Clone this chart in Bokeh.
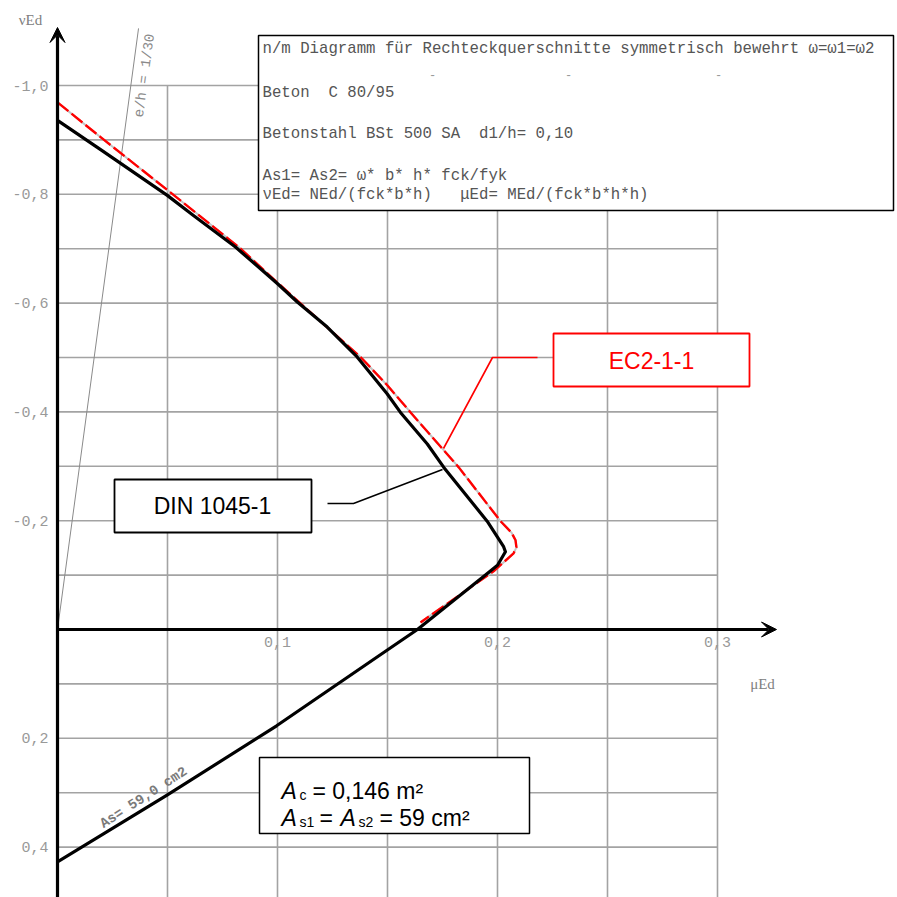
from bokeh.plotting import figure
from bokeh.models import Range1d, Arrow, VeeHead
from bokeh.core.properties import value
from bokeh.embed import file_html
from bokeh.resources import INLINE

# --- data -----------------------------------------------------------------
# interaction curve DIN 1045-1 (muEd, nuEd)
mu_din = [0.0, 0.0196, 0.0499, 0.0618, 0.0809, 0.0999, 0.1090, 0.1226, 0.1362,
          0.1499, 0.1559, 0.1681, 0.1756, 0.1953, 0.2027, 0.2036, 0.2000,
          0.1941, 0.1636, 0.1491, 0.0996, 0.0496, 0.0]
nu_din = [-0.936, -0.882, -0.798, -0.761, -0.703, -0.636, -0.602, -0.556, -0.501,
          -0.433, -0.399, -0.341, -0.298, -0.199, -0.153, -0.143, -0.118,
          -0.099, 0.000, 0.040, 0.177, 0.305, 0.427]

# interaction curve EC2-1-1 (muEd, nuEd)
mu_ec2 = [0.0, 0.0196, 0.0499, 0.0824, 0.0999, 0.1097, 0.1377, 0.1499, 0.1605,
          0.1824, 0.2014, 0.2064, 0.2082, 0.2086, 0.2073, 0.1982, 0.1650]
nu_ec2 = [-0.969, -0.905, -0.808, -0.703, -0.638, -0.602, -0.501, -0.449, -0.399,
          -0.298, -0.199, -0.178, -0.164, -0.151, -0.140, -0.107, -0.013]

# eccentricity ray e/h = 1/30
eh_ratio = 1.0 / 30.0
eh_nu = [0.0, -1.105]

# grid and tick labels
grid_mu = [0.05, 0.10, 0.15, 0.20, 0.25, 0.30]
grid_nu = [-1.0, -0.9, -0.8, -0.7, -0.6, -0.5, -0.4, -0.3, -0.2, -0.1,
           0.1, 0.2, 0.3, 0.4]
x_tick_vals = [0.1, 0.2, 0.3]
x_tick_text = ["0,1", "0,2", "0,3"]
y_tick_vals = [-1.0, -0.8, -0.6, -0.4, -0.2, 0.2, 0.4]
y_tick_text = ["-1,0", "-0,8", "-0,6", "-0,4", "-0,2", "0,2", "0,4"]

NB = "\u00a0"  # keeps runs of spaces in the monospaced block
info_lines = [
    "n/m Diagramm für Rechteckquerschnitte symmetrisch bewehrt ω=ω1=ω2",
    "Beton" + NB * 2 + "C 80/95",
    "Betonstahl BSt 500 SA" + NB * 2 + "d1/h= 0,10",
    "As1= As2= ω* b* h* fck/fyk",
    "νEd= NEd/(fck*b*h)" + NB * 3 + "μEd= MEd/(fck*b*h*h)",
]

# --- page geometry (pixels -> data) ---------------------------------------
W = H = 897
X0, SX = 57.0, 2200.0     # pixel of mu=0, pixels per unit mu
Y0, SY = 629.0, 544.0     # pixel of nu=0, pixels per unit nu (nu grows downwards)


def X(px):
    return (px - X0) / SX


def Y(py):
    return (py - Y0) / SY


p = figure(width=W, height=H, output_backend="svg", toolbar_location=None,
           x_axis_type=None, y_axis_type=None, min_border=0,
           x_range=Range1d(X(0), X(W)), y_range=Range1d(Y(H), Y(0)),
           outline_line_color=None, background_fill_color="white",
           border_fill_color="white")
p.grid.visible = False

GRID = "#a3a3a3"
mono = value("Liberation Mono")
sans = value("Liberation Sans")
serif = value("Liberation Serif")

# grid
nu_bottom = Y(H + 5)
p.segment(x0=grid_mu, y0=[-1.0] * len(grid_mu), x1=grid_mu,
          y1=[nu_bottom] * len(grid_mu), line_color=GRID, line_width=1.6)
p.segment(x0=[0.0] * len(grid_nu), y0=grid_nu, x1=[0.3] * len(grid_nu),
          y1=grid_nu, line_color=GRID, line_width=1.6)

# e/h ray
p.line([eh_ratio * abs(v) for v in eh_nu], eh_nu, line_color="#8a8a8a",
       line_width=1)
p.text(x=[X(144)], y=[Y(75)], text=["e/h = 1/30"], angle=82.3,
       angle_units="deg", text_font=mono, text_font_size="14px",
       text_color="#8a8a8a", text_align="center", text_baseline="middle")

# axes with arrow heads
p.add_layout(Arrow(end=VeeHead(size=15, line_color="black", fill_color="black",
                               line_width=1),
                   x_start=0, y_start=Y(H + 5), x_end=0, y_end=Y(27),
                   line_color="black", line_width=3.2))
p.add_layout(Arrow(end=VeeHead(size=15, line_color="black", fill_color="black",
                               line_width=1),
                   x_start=0, y_start=0, x_end=X(776), y_end=0,
                   line_color="black", line_width=3.2))

# tick labels
p.text(x=x_tick_vals, y=[Y(641)] * len(x_tick_vals), text=x_tick_text,
       text_font=mono, text_font_size="15px", text_color="#999999",
       text_align="center", text_baseline="middle")
p.text(x=[X(48)] * len(y_tick_vals), y=y_tick_vals, text=y_tick_text,
       text_font=mono, text_font_size="15px", text_color="#999999",
       text_align="right", text_baseline="middle")
p.text(x=[X(30)], y=[Y(19)], text=["νEd"], text_font=serif,
       text_font_size="15px", text_color="#808080", text_align="center",
       text_baseline="middle")
p.text(x=[X(762)], y=[Y(683)], text=["μEd"], text_font=serif,
       text_font_size="15px", text_color="#808080", text_align="center",
       text_baseline="middle")

# EC2-1-1 curve (dashed red over a faint grey trace)
p.line(mu_ec2, nu_ec2, line_color="#c4c4c4", line_width=2, line_join="round")
p.line(mu_ec2, nu_ec2, line_color="#ff0000", line_width=2.4,
       line_dash="14 4", line_join="round")

# DIN 1045-1 curve
p.line(mu_din, nu_din, line_color="black", line_width=3.2, line_join="round")
p.text(x=[X(143)], y=[Y(797)], text=["As= 59,0 cm2"], angle=33,
       angle_units="deg", text_font=mono, text_font_size="14px",
       text_font_style="bold", text_color="#7a7a7a", text_align="center",
       text_baseline="middle")

# info box
p.quad(left=[X(258)], right=[X(893)], top=[Y(35)], bottom=[Y(210)],
       fill_color="white", line_color="black", line_width=1.5)
p.text(x=[X(262)] * len(info_lines),
       y=[Y(48), Y(92), Y(133), Y(175), Y(194)], text=info_lines,
       text_font=mono, text_font_size="15.7px", text_color="#555555",
       text_align="left", text_baseline="middle")
p.text(x=[X(432), X(568), X(718)], y=[Y(74)] * 3, text=["-", "-", "-"],
       text_font=mono, text_font_size="12px", text_color="#9a9a9a",
       text_align="center", text_baseline="middle")

# EC2-1-1 callout
p.line([X(443), X(492), X(537)], [Y(448), Y(357), Y(357)],
       line_color="#ff0000", line_width=1.6)
p.quad(left=[X(553)], right=[X(749)], top=[Y(333)], bottom=[Y(386)],
       fill_color="white", line_color="#ff0000", line_width=1.8)
p.text(x=[X(651)], y=[Y(360)], text=["EC2-1-1"], text_font=sans,
       text_font_size="23px", text_color="#ff0000", text_align="center",
       text_baseline="middle")

# DIN 1045-1 callout
p.line([X(327), X(353), X(442)], [Y(503), Y(503), Y(469)],
       line_color="black", line_width=1.5)
p.quad(left=[X(114)], right=[X(311)], top=[Y(479)], bottom=[Y(532)],
       fill_color="white", line_color="black", line_width=1.8)
p.text(x=[X(212)], y=[Y(505)], text=["DIN 1045-1"], text_font=sans,
       text_font_size="23px", text_color="black", text_align="center",
       text_baseline="middle")

# section data box
p.quad(left=[X(259)], right=[X(529)], top=[Y(757)], bottom=[Y(833)],
       fill_color="white", line_color="black", line_width=1.5)
big, small = "23px", "14px"
rows = [
    (790, [(281, "A", big, "italic", 0), (299, "c", small, "normal", 4),
           (312, "= 0,146 m²", big, "normal", 0)]),
    (817, [(281, "A", big, "italic", 0), (299, "s1", small, "normal", 4),
           (319, "=", big, "normal", 0), (340, "A", big, "italic", 0),
           (358, "s2", small, "normal", 4), (379, "= 59 cm²", big, "normal", 0)]),
]
for base, parts in rows:
    for px, txt, size, style, dy in parts:
        p.text(x=[X(px)], y=[Y(base + dy)], text=[txt], text_font=sans,
               text_font_size=size, text_font_style=style, text_color="black",
               text_align="left", text_baseline="alphabetic")

open("out.html", "w").write(file_html(p, INLINE))
